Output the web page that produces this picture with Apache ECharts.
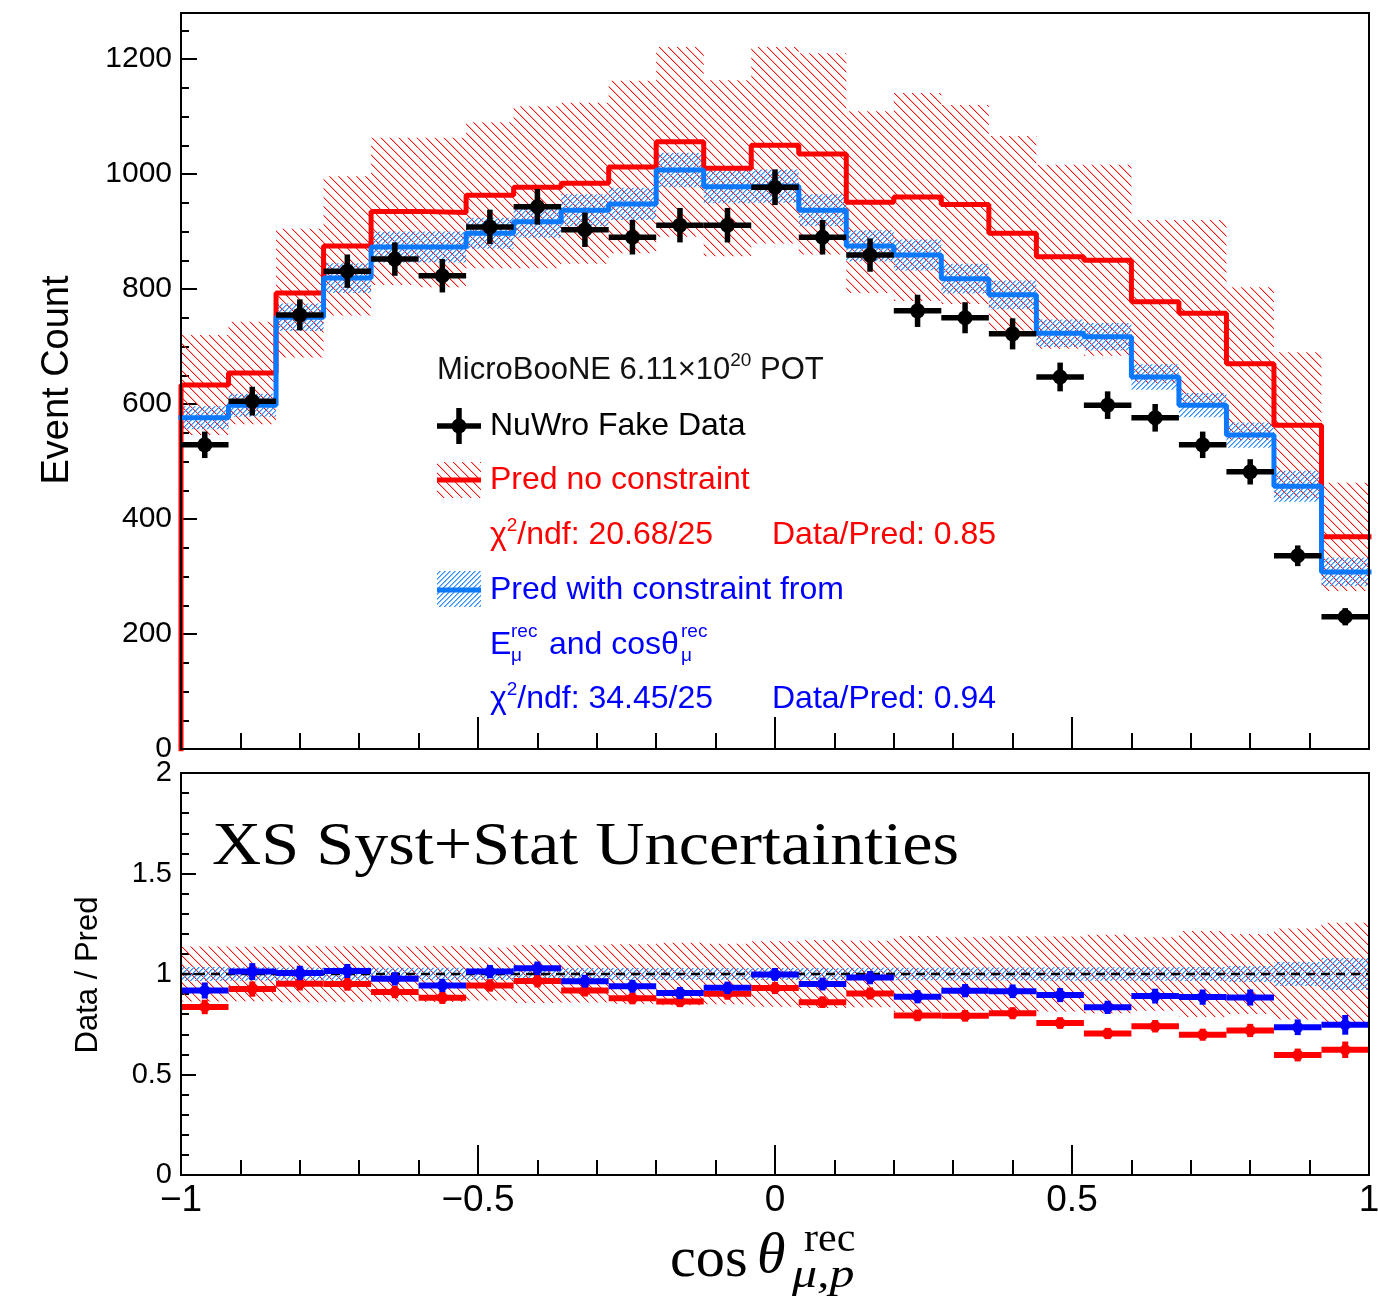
<!DOCTYPE html>
<html><head><meta charset="utf-8">
<script src="https://cdn.jsdelivr.net/npm/echarts@6/dist/echarts.min.js"></script>
<style>html,body{margin:0;padding:0;background:#fff}#c{width:1378px;height:1297px}</style>
</head><body><div id="c"></div>
<script>
// ---------------- data ----------------
const binLow = [-1.00,-0.92,-0.84,-0.76,-0.68,-0.60,-0.52,-0.44,-0.36,-0.28,-0.20,-0.12,-0.04,0.04,0.12,0.20,0.28,0.36,0.44,0.52,0.60,0.68,0.76,0.84,0.92];
const binWidth = 0.08;
const fakeData    = [529,605,755,831,852,823,908,943,903,890,911,911,977,890,859,762,750,722,647,598,576,529,482,336,230];
const fakeDataErr = [23,25,27,29,29,29,30,31,30,30,30,30,31,30,29,28,27,27,25,24,24,23,22,18,15];
const predNoCon    = [633,654,793,875,935,933,963,977,984,1012,1056,1010,1050,1035,951,960,947,897,856,850,778,758,670,563,369];
const predNoConErr = [87,89,112,121,128,130,127,141,140,150,165,153,171,175,158,181,173,169,160,166,142,162,133,127,94];
const predCon    = [576,598,751,819,873,873,897,917,937,948,1007,978,979,937,875,859,818,790,723,717,647,598,546,457,308];
const predConErr = [20,20,24,26,27,27,27,28,28,28,30,29,29,28,27,27,26,25,24,24,22,21,22,27,25];
// ratio panel
const ratioNoCon    = [0.836,0.925,0.952,0.950,0.911,0.882,0.943,0.965,0.918,0.879,0.863,0.902,0.930,0.860,0.903,0.794,0.792,0.805,0.756,0.704,0.740,0.698,0.719,0.597,0.623];
const ratioNoConErr = [0.036,0.038,0.034,0.033,0.031,0.031,0.031,0.032,0.030,0.030,0.028,0.030,0.030,0.029,0.030,0.029,0.029,0.030,0.029,0.028,0.031,0.030,0.033,0.032,0.041];
const ratioCon      = [0.918,1.012,1.005,1.015,0.976,0.943,1.012,1.028,0.964,0.939,0.905,0.931,0.998,0.950,0.982,0.887,0.917,0.914,0.895,0.834,0.890,0.885,0.883,0.735,0.747];
const ratioConErr   = [0.040,0.042,0.036,0.035,0.033,0.033,0.033,0.034,0.032,0.032,0.030,0.031,0.032,0.032,0.033,0.033,0.033,0.034,0.035,0.033,0.037,0.038,0.040,0.039,0.049];
const ratioCenter   = [1,1,1,1,1,1,1,1,1,1,1,1,1,1,1,1,1,1,1,1,1,1,1,1,1];
const bandNoConRel  = [0.137,0.136,0.141,0.138,0.137,0.139,0.132,0.144,0.142,0.148,0.156,0.151,0.163,0.169,0.166,0.189,0.183,0.188,0.187,0.195,0.183,0.214,0.199,0.226,0.255];
const bandConRel    = [0.035,0.033,0.032,0.032,0.031,0.031,0.030,0.031,0.030,0.030,0.030,0.030,0.030,0.030,0.031,0.031,0.032,0.032,0.033,0.033,0.034,0.035,0.040,0.060,0.080];
const yTicksTop = [0,200,400,600,800,1000,1200];

// ---------------- styles ----------------
const RED = '#ff0000', BLUE_LINE = '#0a78ff', BLUE_PT = '#0000ff';
const SANS = '"Liberation Sans", Arial, Helvetica, sans-serif';
const SERIF = '"Liberation Serif", "Times New Roman", serif';

// crisp pixel hatch tiles
function hatch(rgb, s, dir, widthPx) {
  const c = document.createElement('canvas');
  c.width = s; c.height = s;
  const g = c.getContext('2d');
  const img = g.createImageData(s, s);
  for (let j = 0; j < s; j++) for (let i = 0; i < s; i++) {
    const k = dir === 'back' ? ((i - j) % s + s) % s : (i + j) % s;
    let a = 0;
    if (k === 0) a = 255; else if (widthPx > 1 && k === 1) a = Math.round(255 * (widthPx - 1));
    const p = (j * s + i) * 4;
    img.data[p] = rgb[0]; img.data[p + 1] = rgb[1]; img.data[p + 2] = rgb[2]; img.data[p + 3] = a;
  }
  g.putImageData(img, 0, 0);
  return { image: c, repeat: 'repeat' };
}
const redHatch = hatch([255, 20, 20], 9, 'back', 1.3);
const blueHatch = hatch([50, 145, 255], 5, 'fwd', 1.6);

function band(xi, yi, centers, halfs, fill, z) {
  return {
    type: 'custom', xAxisIndex: xi, yAxisIndex: yi, z, silent: true, clip: true,
    data: binLow.map((x, i) => [x, x + binWidth, centers[i] - halfs[i], centers[i] + halfs[i]]),
    encode: { x: [0, 1], y: [2, 3] },
    renderItem(p, api) {
      const a = api.coord([api.value(0), api.value(3)]);
      const b = api.coord([api.value(1), api.value(2)]);
      return { type: 'rect', shape: { x: a[0], y: a[1], width: b[0] - a[0], height: b[1] - a[1] }, style: { fill } };
    }
  };
}
function stepLine(vals, color, fromZero, z) {
  const d = [];
  if (fromZero) d.push([-1, 0]);
  binLow.forEach((x, i) => d.push([x, vals[i]]));
  d.push([1, vals[vals.length - 1]]);
  return { type: 'line', xAxisIndex: 0, yAxisIndex: 0, z, step: 'end', data: d, symbol: 'none', silent: true,
    lineStyle: { color, width: 5, cap: 'square' }, clip: true };
}
function points(xi, yi, vals, errs, color, lw, r, z) {
  return {
    type: 'custom', xAxisIndex: xi, yAxisIndex: yi, z, silent: true, clip: false,
    data: binLow.map((x, i) => [x + binWidth / 2, vals[i], errs[i]]),
    encode: { x: 0, y: 1 },
    renderItem(p, api) {
      const xc = api.value(0), y = api.value(1), e = api.value(2);
      const L = api.coord([xc - binWidth / 2, y]), R = api.coord([xc + binWidth / 2, y]);
      const T = api.coord([xc, y + e]), B = api.coord([xc, y - e]), C = api.coord([xc, y]);
      const st = { stroke: color, lineWidth: lw };
      return { type: 'group', children: [
        { type: 'line', shape: { x1: L[0], y1: L[1], x2: R[0], y2: R[1] }, style: st },
        { type: 'line', shape: { x1: T[0], y1: T[1], x2: B[0], y2: B[1] }, style: st },
        { type: 'circle', shape: { cx: C[0], cy: C[1], r }, style: { fill: color } }
      ] };
    }
  };
}

const ax = { onZero: false, lineStyle: { color: '#000', width: 2 } };
const tk = (len) => ({ inside: true, length: len, lineStyle: { width: 2, color: '#000' } });
const chart = echarts.init(document.getElementById('c'), null, { renderer: 'canvas' });
const option = {
  animation: false,
  backgroundColor: '#fff',
  grid: [
    { left: 181, top: 13, width: 1188, height: 736, show: true, borderColor: '#000', borderWidth: 2, backgroundColor: 'transparent', z: 10, containLabel: false, outerBoundsMode: 'none' },
    { left: 181, top: 773, width: 1188, height: 402, show: true, borderColor: '#000', borderWidth: 2, backgroundColor: 'transparent', z: 10, containLabel: false, outerBoundsMode: 'none' }
  ],
  xAxis: [
    { type: 'value', gridIndex: 0, min: -1, max: 1, interval: 0.5, axisLine: ax, splitLine: { show: false },
      axisTick: tk(32), minorTick: { show: true, splitNumber: 5, length: 16, lineStyle: { width: 2, color: '#000' } },
      axisLabel: { show: false } },
    { type: 'value', gridIndex: 1, min: -1, max: 1, interval: 0.5, axisLine: ax, splitLine: { show: false },
      axisTick: tk(30), minorTick: { show: true, splitNumber: 5, length: 15, lineStyle: { width: 2, color: '#000' } },
      axisLabel: { show: true, fontSize: 37, fontFamily: SANS, color: '#000', margin: 7, hideOverlap: false,
        formatter: v => String(v).replace('-', '\u2212') } }
  ],
  yAxis: [
    { type: 'value', gridIndex: 0, min: 0, max: 1280, interval: 200, axisLine: ax, splitLine: { show: false },
      axisTick: tk(16),
      axisLabel: { fontSize: 30, fontFamily: SANS, color: '#000', margin: 9, showMaxLabel: false,
        formatter: v => (yTicksTop.indexOf(v) >= 0 ? String(v) : '') } },
    { type: 'value', gridIndex: 0, min: 0, max: 1280, interval: 50, position: 'left', offset: 0,
      axisLine: { show: false, onZero: false }, splitLine: { show: false }, axisLabel: { show: false },
      axisTick: tk(8) },
    { type: 'value', gridIndex: 1, min: 0, max: 2, interval: 0.5, axisLine: ax, splitLine: { show: false },
      axisTick: tk(15), minorTick: { show: true, splitNumber: 5, length: 8, lineStyle: { width: 2, color: '#000' } },
      axisLabel: { fontSize: 29, fontFamily: SANS, color: '#000', margin: 9 } }
  ],
  series: [
    band(0, 0, predNoCon, predNoConErr, redHatch, 1),
    band(0, 0, predCon, predConErr, blueHatch, 2),
    stepLine(predNoCon, RED, true, 3),
    stepLine(predCon, BLUE_LINE, false, 4),
    points(0, 0, fakeData, fakeDataErr, '#000', 5.5, 7.5, 5),
    band(1, 2, ratioCenter, bandNoConRel, redHatch, 1),
    band(1, 2, ratioCenter, bandConRel, blueHatch, 2),
    { type: 'line', xAxisIndex: 1, yAxisIndex: 2, z: 3, data: [[-1, 1], [1, 1]], symbol: 'none', silent: true,
      lineStyle: { color: '#000', width: 2.5, type: [9, 6] } },
    points(1, 2, ratioNoCon, ratioNoConErr, RED, 6, 5.5, 4),
    points(1, 2, ratioCon, ratioConErr, BLUE_PT, 6, 5.5, 5)
  ],
  graphic: { elements: [] }
};

const G = option.graphic.elements;
function txt(x, y, text, size, color, extra) {
  G.push(Object.assign({ type: 'text', x, y, z: 100, silent: true,
    style: { text, fontSize: size, fontFamily: SANS, fill: color, align: 'left', verticalAlign: 'middle' } }, extra || {}));
}
function rich(x, y, text, color, size) {
  G.push({ type: 'text', x, y, z: 100, silent: true, style: {
    text, fill: color, fontFamily: SANS, fontSize: size, align: 'left', verticalAlign: 'middle',
    rich: {
      n: { fontSize: size, fontFamily: SANS, fill: color, lineHeight: Math.round(size * 1.2) },
      s: { fontSize: Math.round(size * 0.6), fontFamily: SANS, fill: color, lineHeight: Math.round(size * 0.6), verticalAlign: 'top' }
    } } });
}
function serif(x, y, text, size, italic, sx) {
  G.push({ type: 'text', x, y, z: 100, silent: true, scaleX: sx || 1, style: { text, fontSize: size, fontStyle: italic ? 'italic' : 'normal',
    fontFamily: SERIF, fill: '#000', verticalAlign: 'middle', align: 'left' } });
}
// axis titles
G.push({ type: 'text', x: 58, y: 380, rotation: Math.PI / 2, z: 100, silent: true,
  style: { text: 'Event Count', fontSize: 38, fontFamily: SANS, fill: '#000', align: 'center', verticalAlign: 'middle' } });
G.push({ type: 'text', x: 88, y: 975, rotation: Math.PI / 2, z: 100, silent: true,
  style: { text: 'Data / Pred', fontSize: 31, fontFamily: SANS, fill: '#000', align: 'center', verticalAlign: 'middle' } });
// x title
serif(670, 1261, 'cos', 56, false, 1.04);
serif(757, 1257, '\u03b8', 58, true);
serif(804, 1240, 'rec', 40, false, 1.05);
serif(792, 1276, '\u03bc,p', 40, true, 1.25);
// panel title
serif(212, 848, 'XS Syst+Stat Uncertainties', 62, false, 1.10);

// legend
rich(437, 370, '{n|MicroBooNE 6.11\u00d710}{s|20}{n| POT}', '#111', 31);
G.push({ type: 'line', z: 100, silent: true, shape: { x1: 437, y1: 426, x2: 481, y2: 426 }, style: { stroke: '#000', lineWidth: 5.5 } });
G.push({ type: 'line', z: 100, silent: true, shape: { x1: 459, y1: 408, x2: 459, y2: 444 }, style: { stroke: '#000', lineWidth: 5.5 } });
G.push({ type: 'circle', z: 100, silent: true, shape: { cx: 459, cy: 426, r: 7.5 }, style: { fill: '#000' } });
txt(490, 426, 'NuWro Fake Data', 32, '#000');
G.push({ type: 'rect', z: 99, silent: true, shape: { x: 437, y: 462, width: 44, height: 36 }, style: { fill: redHatch } });
G.push({ type: 'line', z: 100, silent: true, shape: { x1: 437, y1: 480, x2: 481, y2: 480 }, style: { stroke: RED, lineWidth: 5 } });
txt(490, 480, 'Pred no constraint', 32, RED);
rich(490, 535, '{n|\u03c7}{s|2}{n|/ndf: 20.68/25}', RED, 32);
txt(772, 535, 'Data/Pred: 0.85', 32, RED);
G.push({ type: 'rect', z: 99, silent: true, shape: { x: 437, y: 571, width: 44, height: 36 }, style: { fill: blueHatch } });
G.push({ type: 'line', z: 100, silent: true, shape: { x1: 437, y1: 590, x2: 481, y2: 590 }, style: { stroke: BLUE_LINE, lineWidth: 5 } });
txt(490, 590, 'Pred with constraint from', 32, BLUE_PT);
txt(490, 645, 'E', 32, BLUE_PT);
txt(511, 632, 'rec', 19, BLUE_PT);
txt(511, 656, '\u03bc', 19, BLUE_PT);
txt(549, 645, 'and cos\u03b8', 32, BLUE_PT);
txt(681, 632, 'rec', 19, BLUE_PT);
txt(681, 656, '\u03bc', 19, BLUE_PT);
rich(490, 699, '{n|\u03c7}{s|2}{n|/ndf: 34.45/25}', BLUE_PT, 32);
txt(772, 699, 'Data/Pred: 0.94', 32, BLUE_PT);

chart.setOption(option);
</script></body></html>
